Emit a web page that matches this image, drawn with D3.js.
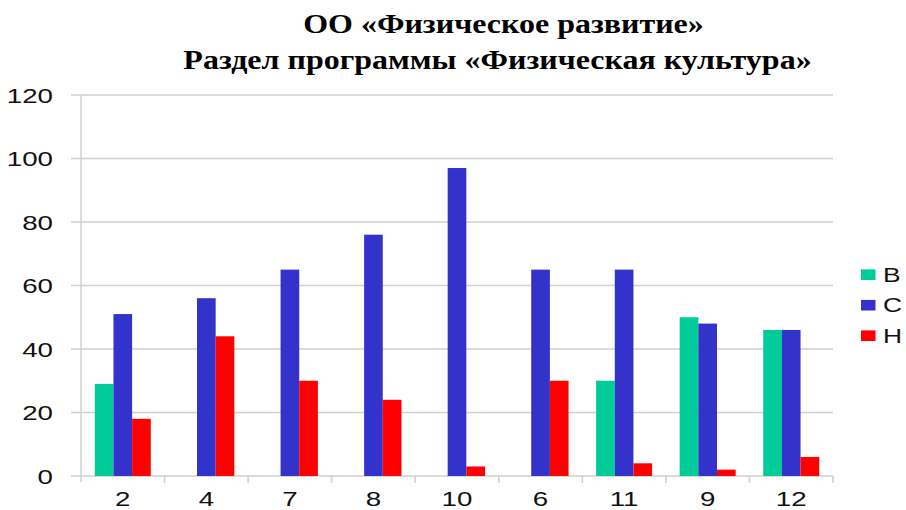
<!DOCTYPE html>
<html><head><meta charset="utf-8">
<script src="https://cdn.jsdelivr.net/npm/d3@7"></script>
<style>body{margin:0;background:#fff}svg{display:block}</style>
</head><body>
<svg id="c" width="906" height="510"></svg>
<script>
const categories = ["2","4","7","8","10","6","11","9","12"];
const seriesNames = ["В","С","Н"];
const seriesB = [29,0,0,0,0,0,30,50,46];
const seriesC = [51,56,65,76,97,65,65,48,46];
const seriesH = [18,44,30,24,3,30,4,2,6];
const yTicks = [0,20,40,60,80,100,120];
const colors = ["#00CC99","#3333CC","#FF0000"];
const titleLines = ["ОО «Физическое развитие»","Раздел программы «Физическая культура»"];

const series = [seriesB, seriesC, seriesH];
const svg = d3.select("#c");
const L = 81, R = 833, T = 95, B = 476;
const SX = 1.32;   // horizontal stretch of the reference's text
const x = d3.scaleBand().domain(categories).range([L, R]).paddingInner(0.33).paddingOuter(0.165);
const x0 = d3.scaleBand().domain(categories).range([L, R]);
const xs = d3.scaleBand().domain(seriesNames).range([0, x.bandwidth()]);
const y = d3.scaleLinear().domain([0,120]).range([B, T]);
const sans = "Liberation Sans, Arial, sans-serif";

// gridlines
svg.append("g").selectAll("line").data(yTicks).join("line")
  .attr("x1", 71).attr("x2", R).attr("y1", d=>y(d)).attr("y2", d=>y(d))
  .attr("stroke", "#cfcfcf").attr("stroke-width", 1.5);
// y axis line
svg.append("line").attr("x1", L).attr("x2", L).attr("y1", T).attr("y2", B+6)
  .attr("stroke", "#cfcfcf").attr("stroke-width", 1.5);
// x ticks
const bounds = categories.map(c => x0(c)).concat([R]);
svg.append("g").selectAll("line").data(bounds.slice(1)).join("line")
  .attr("x1", d=>d).attr("x2", d=>d).attr("y1", B).attr("y2", B+7)
  .attr("stroke", "#cfcfcf").attr("stroke-width", 1.5);

// y labels
svg.append("g").selectAll("text").data(yTicks).join("text")
  .attr("transform", d => `translate(53,${y(d)}) scale(${SX},1)`).attr("dy", "0.36em")
  .attr("text-anchor", "end").attr("font-family", sans)
  .attr("font-size", 21).attr("fill", "#111").text(d=>d);
// x labels
svg.append("g").selectAll("text").data(categories).join("text")
  .attr("transform", d => `translate(${x0(d)+x0.bandwidth()/2},505.5) scale(${SX},1)`)
  .attr("text-anchor", "middle").attr("font-family", sans)
  .attr("font-size", 21).attr("fill", "#111").text(d=>d);

// bars
seriesNames.forEach((s, si) => {
  svg.append("g").selectAll("rect").data(categories.map((c,i)=>({c, v: series[si][i]}))).join("rect")
    .attr("x", d => x(d.c) + xs(s)).attr("width", xs.bandwidth())
    .attr("y", d => y(d.v)).attr("height", d => B - y(d.v))
    .attr("fill", colors[si]);
});

// legend
const lg = svg.append("g");
seriesNames.forEach((s, i) => {
  const cy = 274.7 + i*30.5;
  lg.append("rect").attr("x", 861).attr("y", cy-5.3).attr("width", 14.5).attr("height", 10.6).attr("fill", colors[i]);
  lg.append("text").attr("transform", `translate(883,${cy}) scale(${SX},1)`).attr("dy", "0.36em")
    .attr("font-family", sans).attr("font-size", 20).attr("fill", "#111").text(s);
});

// title
const serif = "Liberation Serif, Times New Roman, serif";
svg.append("text").attr("transform", "translate(503.5,33) scale(1.185,1)").attr("text-anchor", "middle")
  .attr("font-family", serif).attr("font-weight", "bold")
  .attr("font-size", 27).attr("fill", "#000").text(titleLines[0]);
svg.append("text").attr("transform", "translate(497.5,69) scale(1.185,1)").attr("text-anchor", "middle")
  .attr("font-family", serif).attr("font-weight", "bold")
  .attr("font-size", 27).attr("fill", "#000").text(titleLines[1]);
</script>
</body></html>
